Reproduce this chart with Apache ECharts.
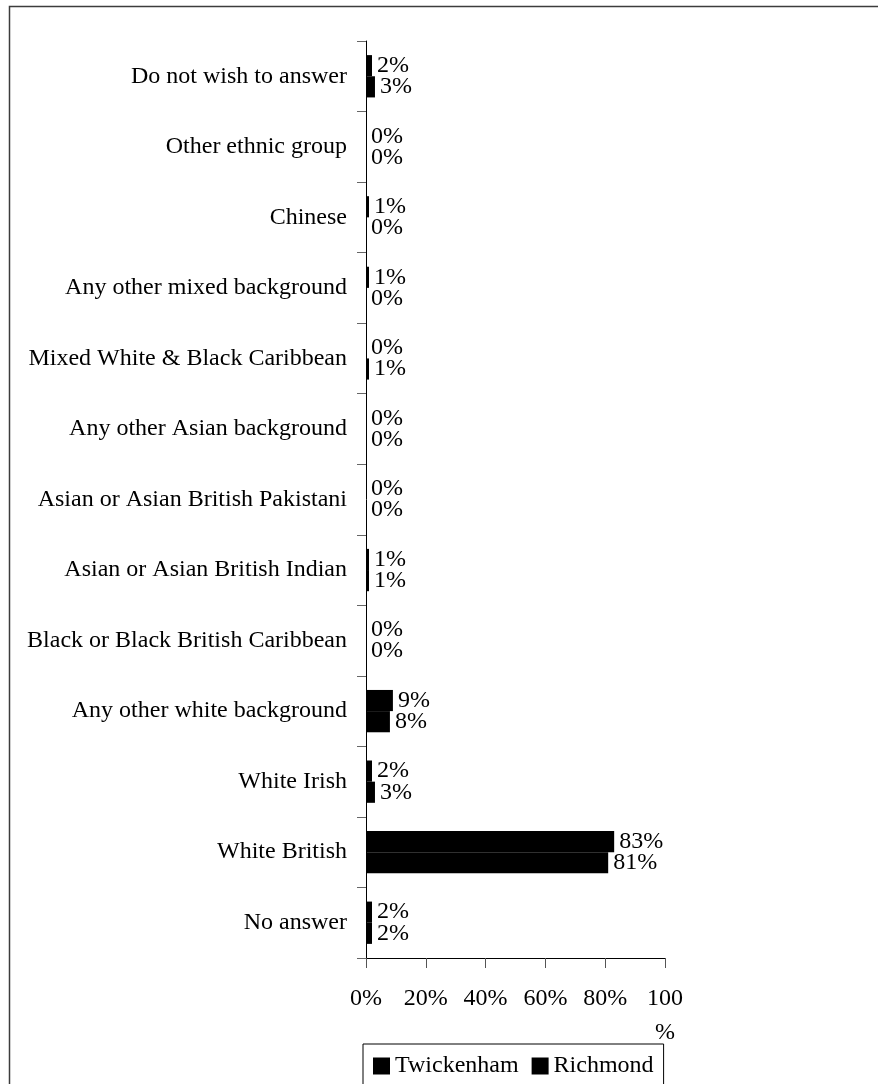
<!DOCTYPE html>
<html>
<head>
<meta charset="utf-8">
<script src="https://cdn.jsdelivr.net/npm/echarts@6/dist/echarts.min.js"></script>
<style>
html,body{margin:0;padding:0;background:#fff;}
#chart{width:878px;height:1084px;}
</style>
</head>
<body>
<div id="chart"></div>
<script>
// Categories listed bottom-to-top (ECharts category y-axis starts at the bottom)
const categories = [
  'No answer',
  'White British',
  'White Irish',
  'Any other white background',
  'Black or Black British Caribbean',
  'Asian or Asian British Indian',
  'Asian or Asian British Pakistani',
  'Any other Asian background',
  'Mixed White & Black Caribbean',
  'Any other mixed background',
  'Chinese',
  'Other ethnic group',
  'Do not wish to answer'
];
const twickenham = [2, 83, 2, 9, 0, 1, 0, 0, 0, 1, 1, 0, 2];
const richmond   = [2, 81, 3, 8, 0, 1, 0, 0, 1, 0, 0, 0, 3];
const xTicks = [0, 20, 40, 60, 80, 100];

const FONT = '"Liberation Serif", "DejaVu Serif", serif';
const chart = echarts.init(document.getElementById('chart'), null, {renderer: 'canvas'});

function pctLabel(p) { return p.value + '%'; }

chart.setOption({
  backgroundColor: '#ffffff',
  animation: false,
  textStyle: {fontFamily: FONT, color: '#000'},
  graphic: [{
    type: 'rect', left: 7, top: 4, silent: true,
    shape: {width: 900, height: 1100},
    style: {fill: 'none', stroke: '#3c3c3c', lineWidth: 1.5}
  }],
  legend: {
    data: ['Twickenham', 'Richmond'],
    left: 363, top: 1044,
    orient: 'horizontal',
    icon: 'rect',
    itemWidth: 17, itemHeight: 17, itemGap: 13,
    padding: [10, 10, 30, 10],
    borderColor: '#000', borderWidth: 1,
    textStyle: {fontFamily: FONT, fontSize: 24, color: '#000'}
  },
  grid: {left: 366, right: 213, top: 41, bottom: 126, containLabel: false},
  xAxis: {
    type: 'value', min: xTicks[0], max: xTicks[xTicks.length - 1], interval: xTicks[1] - xTicks[0],
    axisLine: {show: true, lineStyle: {color: '#000', width: 1}},
    axisTick: {show: true, inside: false, length: 10, lineStyle: {color: '#555'}},
    splitLine: {show: false},
    axisLabel: {
      fontFamily: FONT, fontSize: 24, color: '#000', margin: 24, lineHeight: 34,
      formatter: function (v) { return v === 100 ? '100\n%' : v + '%'; }
    }
  },
  yAxis: {
    type: 'category', data: categories,
    axisLine: {show: true, lineStyle: {color: '#000', width: 1}},
    axisTick: {show: true, length: 9, lineStyle: {color: '#666'}},
    axisLabel: {fontFamily: FONT, fontSize: 24, color: '#000', margin: 19}
  },
  series: [
    {
      name: 'Twickenham', type: 'bar', data: twickenham,
      barGap: '0%', barCategoryGap: '40%',
      itemStyle: {color: '#000'},
      label: {show: true, position: 'right', distance: 5, formatter: pctLabel,
        fontFamily: FONT, fontSize: 24, color: '#000'}
    },
    {
      name: 'Richmond', type: 'bar', data: richmond,
      barGap: '0%', barCategoryGap: '40%',
      itemStyle: {color: '#000'},
      label: {show: true, position: 'right', distance: 5, formatter: pctLabel,
        fontFamily: FONT, fontSize: 24, color: '#000'}
    }
  ]
});
</script>
</body>
</html>
